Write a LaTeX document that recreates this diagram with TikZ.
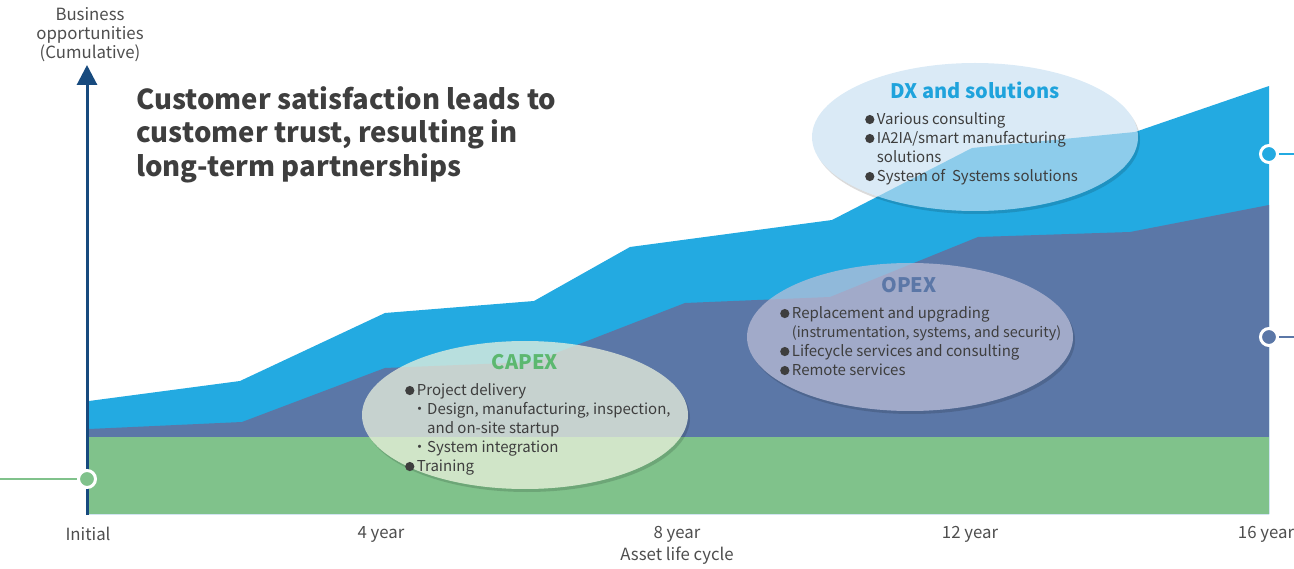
\documentclass[tikz,border=0pt]{standalone}
\usepackage{fontspec}
\setmainfont{Noto Sans CJK JP}
\usetikzlibrary{calc, shapes.geometric, arrows.meta}

\definecolor{capexgreen}{HTML}{80C28B}
\definecolor{opexblue}{HTML}{5B77A7}
\definecolor{dxblue}{HTML}{23AAE1}
\definecolor{axisblue}{HTML}{174A7E}
\definecolor{textgray}{HTML}{3E3E3E}
\definecolor{labelgray}{HTML}{4E4E4E}
\definecolor{capexhead}{HTML}{5CB870}
\definecolor{dxhead}{HTML}{1FA3DC}
\definecolor{capexbg}{HTML}{EBF1DD}
\definecolor{opexbg}{HTML}{BFC0D8}
\definecolor{dxbg}{HTML}{C6DFF1}

\newcommand{\dotb}{\tikz\fill[textgray] (0,0) circle (4.6pt);\hspace{2.5pt}}

\newcommand{\drawBubble}[4]{
    \begin{scope}[even odd rule]
        \clip (-10,-10) rectangle (1310,580) #2 ellipse (163 and 74);
        \fill[black, opacity=0.14] ($#2+(2,3)$) ellipse (163 and 74);
    \end{scope}
    \node[bubble, fill=#3, fill opacity=#4] (#1) at #2 {};
}

\tikzset{
    bubble/.style={ellipse, minimum width=326pt, minimum height=148pt, inner sep=0pt},
    bubblehead/.style={font=\fontsize{20}{24}\selectfont\bfseries, inner sep=0pt},
    listtext/.style={anchor=north west, align=left, inner sep=0pt, text=textgray,
        font=\fontsize{15}{19}\selectfont},
    ticklabel/.style={font=\fontsize{16.8}{19}\selectfont, text=labelgray, inner sep=0pt},
    endpoint/.style={circle, draw=white, line width=3pt, minimum size=17pt, inner sep=0pt},
}

\begin{document}
\begin{tikzpicture}[x=1pt, y=-1pt]
    \useasboundingbox (0,0) rectangle (1294,569);

    % stacked areas
    \fill[dxblue] (89,401) -- (240,381) -- (385,313) -- (534,301) -- (630,247)
        -- (832,220) -- (972,148) -- (1135,132) -- (1269,86) -- (1269,514) -- (89,514) -- cycle;
    \fill[opexblue] (89,429) -- (242,422) -- (385,368) -- (533,362) -- (685,303)
        -- (830,297) -- (978,237) -- (1130,232) -- (1269,205) -- (1269,514) -- (89,514) -- cycle;
    \fill[capexgreen] (89,437) rectangle (1269,514);

    % axis
    \coordinate (base) at (87,515);
    \coordinate (top) at (87,65);
    \draw[axisblue, line width=3pt, -{Triangle[length=20pt, width=20pt]}] (base) -- (top);

    \node[ticklabel, align=center] (ylabel) at (90,35) {Business\\opportunities\\(Cumulative)};
    \foreach \x/\lab [count=\i] in {88/Initial, 381/4 year, 677/8 year, 970/12 year, 1266/16 year}{
        \node[ticklabel] (tick\i) at (\x,534) {\lab};
    }
    \node[ticklabel] (xlabel) at (677,556) {Asset life cycle};

    \node[anchor=north west, align=left, inner sep=0pt, text=textgray,
        font=\fontsize{27.5}{33.5}\selectfont\bfseries] (title) at (136,86)
        {Customer satisfaction leads to\\customer trust, resulting in\\long-term partnerships};

    % bubbles
    \drawBubble{capex}{(525,415)}{capexbg}{0.75}
    \drawBubble{opex}{(910,337)}{opexbg}{0.7}
    \drawBubble{dx}{(975,137)}{dxbg}{0.65}

    \node[bubblehead, text=capexhead] (capexhead) at (525,362) {CAPEX};
    \node[listtext] (capexlist) at (405,383) {\dotb Project delivery\\
        \hspace*{7pt}・Design, manufacturing, inspection,\\
        \hspace*{22pt}and on-site startup\\
        \hspace*{7pt}・System integration\\
        \dotb Training};

    \node[bubblehead, text=opexblue] (opexhead) at (909,285) {OPEX};
    \node[listtext] (opexlist) at (780,306) {\dotb Replacement and upgrading\\
        \hspace*{11.7pt}{\fontsize{14.4}{19}\selectfont(instrumentation, systems, and security)}\\
        \dotb Lifecycle services and consulting\\
        \dotb Remote services};

    \node[bubblehead, text=dxhead] (dxhead) at (975,90) {DX and solutions};
    \node[listtext] (dxlist) at (865,112) {\dotb Various consulting\\
        \dotb IA2IA/smart manufacturing\\
        \hspace*{11.7pt}solutions\\
        \dotb System of~ Systems solutions};

    % end points
    \node[endpoint, fill=capexgreen] (capexdot) at (87,479) {};
    \coordinate (capexend) at (0,479);
    \draw[capexgreen, line width=1.5pt] (capexend) -- (capexdot);

    \node[endpoint, fill=dxblue] (dxdot) at (1269,154) {};
    \coordinate (dxend) at (1294,154);
    \draw[dxblue, line width=1.5pt] (dxdot) -- (dxend);

    \node[endpoint, fill=opexblue] (opexdot) at (1269,337) {};
    \coordinate (opexend) at (1294,337);
    \draw[opexblue, line width=1.5pt] (opexdot) -- (opexend);
\end{tikzpicture}
\end{document}
